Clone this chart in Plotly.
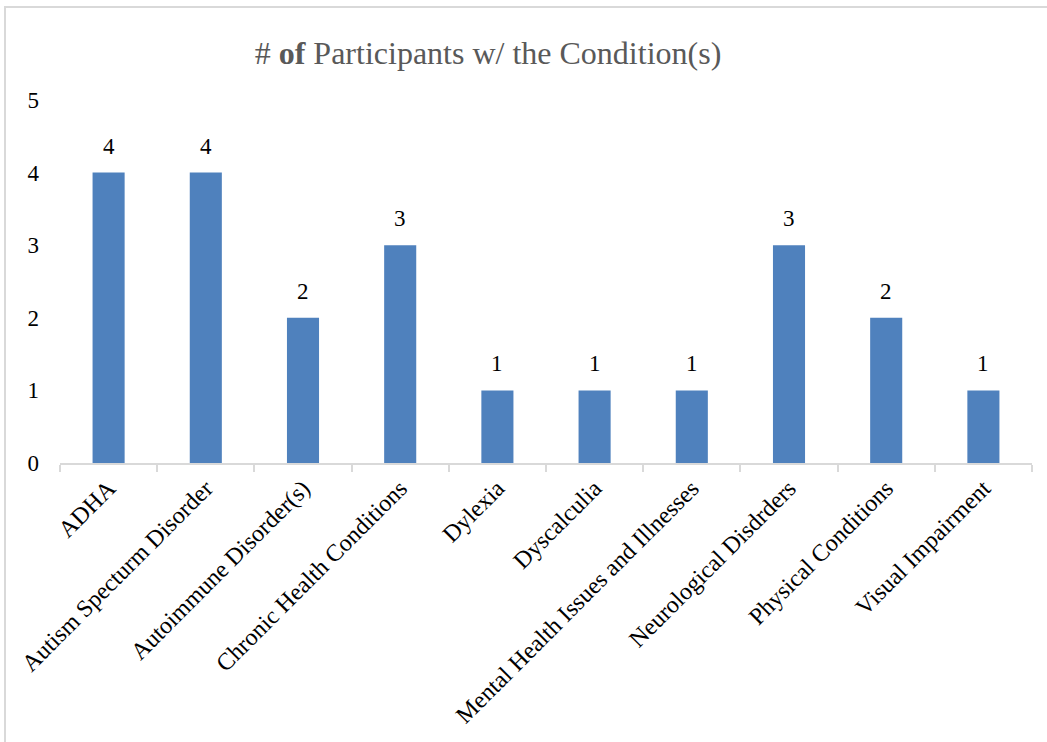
import plotly.graph_objects as go

categories = ["ADHA", "Autism Specturm Disorder", "Autoimmune Disorder(s)",
              "Chronic Health Conditions", "Dylexia", "Dyscalculia",
              "Mental Health Issues and Illnesses", "Neurological Disdrders",
              "Physical Conditions", "Visual Impairment"]
counts = [4, 4, 2, 3, 1, 1, 1, 3, 2, 1]

font_family = "Liberation Serif, Times New Roman, serif"

fig = go.Figure(go.Bar(
    x=categories, y=counts,
    marker=dict(color="#4f81bd", line=dict(width=0)),
))

for c, v in zip(categories, counts):
    fig.add_annotation(x=c, y=v, text=str(v), showarrow=False,
                       yanchor="bottom", yshift=12,
                       font=dict(family=font_family, size=23, color="#000000"))

fig.update_layout(
    width=1047, height=742,
    margin=dict(l=60, r=15, t=100, b=279),
    paper_bgcolor="white", plot_bgcolor="white",
    bargap=0.67,
    showlegend=False,
    font=dict(family=font_family, size=23, color="#000000"),
    title=dict(text="# <b>of</b> Participants w/ the Condition(s)",
               x=488/1047, xanchor="center", xref="container",
               y=1 - 53/742, yanchor="middle", yref="container",
               font=dict(family=font_family, size=32, color="#595959")),
    shapes=[dict(type="rect", xref="paper", yref="paper",
                 x0=-55/972, x1=1.2, y0=-1.0, y1=1 + 93/363,
                 line=dict(color="#d9d9d9", width=2), layer="below")],
)

fig.update_xaxes(
    showline=True, linecolor="#d9d9d9", linewidth=1.5,
    ticks="outside", tickson="boundaries", ticklen=7, tickcolor="#d9d9d9",
    tickwidth=1.5, tickangle=-45, showgrid=False,
    tickfont=dict(family=font_family, size=24, color="#000000"),
)
fig.update_yaxes(
    range=[0, 5], dtick=1, showgrid=False, zeroline=False, showline=False,
    ticks="", ticklabelstandoff=20,
    tickfont=dict(family=font_family, size=23, color="#000000"),
)

fig.write_html("out.html")
